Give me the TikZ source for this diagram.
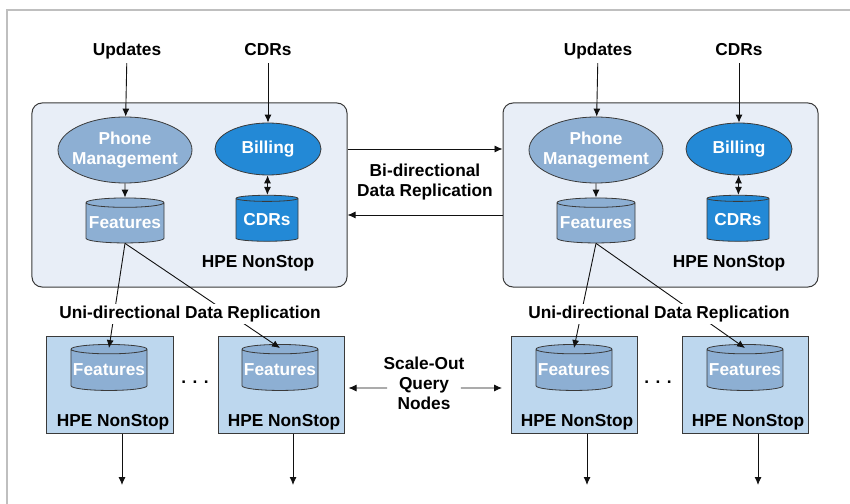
\documentclass[tikz,border=0pt]{standalone}
\usepackage{fontspec}
\setsansfont{Liberation Sans}
\usepackage{xcolor}
\definecolor{ink}{HTML}{111111}
\definecolor{edge}{HTML}{3A3A3A}
\definecolor{framegray}{HTML}{BFBFBF}
\definecolor{hostbg}{HTML}{E8EEF7}
\definecolor{querybg}{HTML}{BDD7EE}
\definecolor{steel}{HTML}{8DAFD3}
\definecolor{billblue}{HTML}{2389D6}
\usepackage{tikz}
\usetikzlibrary{shapes.geometric,arrows.meta}

\begin{document}
\begin{tikzpicture}[
  x=1bp, y=-1bp,
  font=\sffamily\bfseries\fontsize{17.3bp}{20bp}\selectfont,
  >={Latex[length=8bp,width=7bp]},
  host/.style={draw=edge, line width=1bp, fill=hostbg, rounded corners=10bp,
               minimum width=315bp, minimum height=184bp},
  query/.style={draw=edge, line width=1bp, fill=querybg,
                minimum width=126bp, minimum height=96bp},
  proc/.style={ellipse, draw=edge, line width=0.8bp, text=white, align=center,
               inner xsep=-7bp, inner ysep=0pt},
  db/.style={cylinder, shape border rotate=90, aspect=0.13, draw=edge, line width=0.8bp,
             text=white, inner sep=0pt},
  src/.style={anchor=base, text depth=4bp, inner sep=3bp},
  link/.style={->, ink, line width=0.9bp},
  repl/.style={fill=white, inner sep=2bp, align=center}
]
  \useasboundingbox (0,0) rectangle (850,504);
  \draw[framegray, line width=1.2bp] (7,504) -- (7,10) -- (850,10);

  % left host
  \node[host] (hostL) at (189.5,195) {};
  \node[src] (updL) at (127,56) {Updates};
  \node[src] (cdrL) at (268,56) {CDRs};
  \node[proc, fill=steel, minimum width=134bp, minimum height=66bp] (phoneL) at (125,150) {Phone\\Management};
  \node[proc, fill=billblue, minimum width=106bp, minimum height=52bp] (billL) at (268,149) {Billing};
  \node[db, fill=steel, minimum width=78bp, minimum height=45bp] (featL) at (125,223) {Features};
  \node[db, fill=billblue, minimum width=62bp, minimum height=46bp] (cdbL) at (267,220) {CDRs};
  \node (hpeL) at (258,263) {HPE NonStop};

  \draw[link] (updL) -- (phoneL);
  \draw[link] (cdrL) -- (billL);
  \draw[link] (phoneL) -- (featL);
  \draw[link, <->] (billL) -- (cdbL);

  % right host
  \node[host] (hostR) at (660.5,195) {};
  \node[src] (updR) at (598,56) {Updates};
  \node[src] (cdrR) at (739,56) {CDRs};
  \node[proc, fill=steel, minimum width=134bp, minimum height=66bp] (phoneR) at (596,150) {Phone\\Management};
  \node[proc, fill=billblue, minimum width=106bp, minimum height=52bp] (billR) at (739,149) {Billing};
  \node[db, fill=steel, minimum width=78bp, minimum height=45bp] (featR) at (596,223) {Features};
  \node[db, fill=billblue, minimum width=62bp, minimum height=46bp] (cdbR) at (738,220) {CDRs};
  \node (hpeR) at (729,263) {HPE NonStop};

  \draw[link] (updR) -- (phoneR);
  \draw[link] (cdrR) -- (billR);
  \draw[link] (phoneR) -- (featR);
  \draw[link, <->] (billR) -- (cdbR);

  % bi-directional replication
  \node[align=center] (bidir) at (425,182) {Bi-directional\\Data Replication};
  \draw[link] ([yshift=46bp]hostL.east) -- ([yshift=46bp]hostR.west);
  \draw[link] ([yshift=-20bp]hostR.west) -- ([yshift=-20bp]hostL.east);

  % scale-out query nodes
  \node[query] (q1) at (110,385) {};
  \node[query] (q2) at (281,385) {};
  \node[query] (q3) at (574.5,385) {};
  \node[query] (q4) at (745.5,385) {};
  \node[db, fill=steel, minimum width=76bp, minimum height=46bp] (q1f) at (109,370) {Features};
  \node[db, fill=steel, minimum width=76bp, minimum height=46bp] (q2f) at (280,370) {Features};
  \node[db, fill=steel, minimum width=76bp, minimum height=46bp] (q3f) at (574,370) {Features};
  \node[db, fill=steel, minimum width=76bp, minimum height=46bp] (q4f) at (745,370) {Features};
  \node (q1h) at (113,422) {HPE NonStop};
  \node (q2h) at (284,422) {HPE NonStop};
  \node (q3h) at (577,422) {HPE NonStop};
  \node (q4h) at (748,422) {HPE NonStop};
  \node (dotsL) at (195,382) {. . .};
  \node (dotsR) at (658,382) {. . .};

  \draw[link] (featL.south) -- ([yshift=-4bp]q1f.north);
  \draw[link] (featL.south) -- ([yshift=-4bp]q2f.north);
  \draw[link] (featR.south) -- ([yshift=-4bp]q3f.north);
  \draw[link] (featR.south) -- ([yshift=-4bp]q4f.north);
  \node[repl] (uniL) at (190,314) {Uni-directional Data Replication};
  \node[repl] (uniR) at (659,314) {Uni-directional Data Replication};

  \node[align=center] (scale) at (424,383) {Scale-Out\\Query\\Nodes};
  \draw[link, shorten >=4bp] ([xshift=7bp,yshift=-5bp]scale.west) -- ([yshift=-3bp]q2.east);
  \draw[link, shorten >=9bp] ([xshift=-7bp,yshift=-5bp]scale.east) -- ([yshift=-3bp]q3.west);

  \coordinate (out1) at (122,485);
  \coordinate (out2) at (293,485);
  \coordinate (out3) at (587,485);
  \coordinate (out4) at (758,485);
  \draw[link] (q1.south -| out1) -- (out1);
  \draw[link] (q2.south -| out2) -- (out2);
  \draw[link] (q3.south -| out3) -- (out3);
  \draw[link] (q4.south -| out4) -- (out4);
\end{tikzpicture}
\end{document}
